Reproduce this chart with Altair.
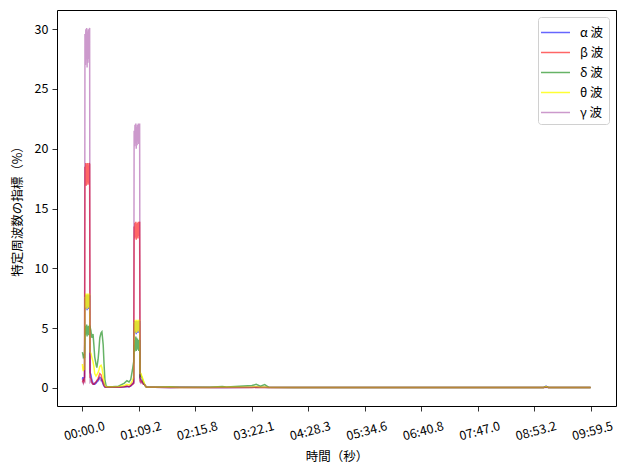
import altair as alt
import pandas as pd

# sample index (x) and the five series
X = ([0, 1, 2, 3, 5]
     + [6, 7, 8, 9, 10, 11, 12, 13, 14, 15, 16, 17]
     + [18, 20, 22, 25, 27, 29, 32, 34, 37, 39, 41, 44, 46, 49, 51, 53, 56, 59]
     + [70, 85, 99, 105, 110, 114, 118, 121]
     + [122, 123, 124, 125, 126, 127, 128, 129, 130, 131, 132, 133, 134, 135]
     + [136, 138, 140, 142, 144, 146, 148, 150, 152]
     + [170, 208, 230, 300, 320, 330, 340, 400, 410, 420, 430, 440, 500, 600,
        700, 800, 900, 1000, 1088, 1094, 1100, 1150, 1199])

ALPHA = ([0.7, 0.9, 0.6, 0.8, 0.9]
         + [7.5, 6.6, 7.8, 6.7, 7.7, 6.5, 7.8, 6.8, 7.7, 6.6, 7.8, 7.7]
         + [1.3, 1.1, 0.7, 0.4, 0.3, 0.3, 0.4, 0.5, 0.6, 0.8, 0.9, 0.8, 0.6, 0.3, 0.15, 0.08, 0.05, 0.05]
         + [0.05, 0.05, 0.1, 0.1, 0.1, 0.15, 0.3, 0.4]
         + [5.4, 4.6, 5.6, 4.7, 5.5, 4.5, 5.6, 4.8, 5.5, 4.6, 5.6, 4.7, 5.5, 5.6]
         + [0.8, 0.7, 0.6, 0.5, 0.4, 0.3, 0.2, 0.1, 0.05]
         + [0.05, 0.04, 0.03, 0.03, 0.04, 0.05, 0.04, 0.05, 0.06, 0.05, 0.05, 0.04, 0.03, 0.03,
            0.03, 0.03, 0.03, 0.03, 0.03, 0.15, 0.03, 0.03, 0.03])

BETA = ([0.5, 0.6, 0.5, 0.7, 0.6]
        + [18.5, 17.0, 18.8, 16.9, 18.7, 17.2, 18.8, 17.0, 18.6, 17.1, 18.8, 18.7]
        + [0.9, 0.8, 0.5, 0.3, 0.3, 0.4, 0.5, 0.6, 0.8, 1.0, 1.2, 1.1, 0.8, 0.4, 0.2, 0.08, 0.05, 0.05]
        + [0.05, 0.05, 0.1, 0.15, 0.1, 0.2, 0.3, 0.4]
        + [13.5, 12.5, 13.8, 12.6, 13.9, 12.4, 13.7, 12.6, 13.8, 12.5, 13.9, 12.7, 13.8, 13.9]
        + [0.6, 0.5, 0.6, 0.4, 0.3, 0.3, 0.2, 0.1, 0.05]
        + [0.05, 0.04, 0.03, 0.03, 0.03, 0.04, 0.03, 0.04, 0.05, 0.04, 0.04, 0.03, 0.03, 0.03,
           0.03, 0.03, 0.03, 0.03, 0.03, 0.08, 0.03, 0.03, 0.03])

DELTA = ([3.0, 2.8, 2.6, 2.7, 2.5]
         + [5.0, 4.4, 5.2, 4.5, 5.3, 4.3, 5.1, 4.6, 5.2, 4.4, 5.1, 5.2]
         + [5.1, 4.8, 4.2, 4.5, 3.6, 2.6, 2.0, 1.7, 2.4, 3.2, 4.2, 4.6, 4.7, 3.6, 2.0, 0.7, 0.15, 0.1]
         + [0.1, 0.15, 0.4, 0.6, 0.5, 0.7, 1.5, 2.2]
         + [3.6, 3.0, 4.0, 3.2, 4.3, 3.1, 4.2, 3.3, 4.1, 3.2, 4.0, 3.1, 3.9, 4.0]
         + [1.0, 1.1, 0.9, 0.7, 0.5, 0.3, 0.2, 0.1, 0.05]
         + [0.05, 0.1, 0.05, 0.05, 0.1, 0.12, 0.08, 0.2, 0.3, 0.15, 0.28, 0.05, 0.03, 0.03,
            0.03, 0.03, 0.03, 0.03, 0.03, 0.1, 0.03, 0.03, 0.03])

THETA = ([2.0, 1.6, 1.4, 1.8, 1.5]
         + [7.6, 6.7, 7.9, 6.8, 7.8, 6.6, 7.9, 6.9, 7.8, 6.7, 7.9, 7.8]
         + [3.0, 2.9, 2.6, 2.2, 1.8, 1.2, 1.0, 1.1, 1.3, 1.5, 1.8, 1.9, 1.7, 1.0, 0.5, 0.2, 0.1, 0.08]
         + [0.08, 0.1, 0.2, 0.3, 0.25, 0.35, 0.6, 0.9]
         + [5.5, 4.7, 5.7, 4.8, 5.6, 4.6, 5.7, 4.9, 5.6, 4.7, 5.7, 4.8, 5.6, 5.7]
         + [1.2, 1.2, 1.0, 0.8, 0.6, 0.4, 0.2, 0.1, 0.05]
         + [0.06, 0.05, 0.04, 0.04, 0.05, 0.06, 0.05, 0.08, 0.1, 0.06, 0.08, 0.04, 0.03, 0.03,
            0.03, 0.03, 0.03, 0.03, 0.03, 0.12, 0.03, 0.03, 0.03])

GAMMA = ([0.4, 0.5, 0.4, 0.6, 0.5]
         + [29.6, 27.0, 30.0, 27.5, 30.1, 26.8, 29.8, 27.2, 30.0, 27.5, 29.9, 30.1]
         + [0.5, 0.6, 0.4, 0.3, 0.3, 0.4, 0.5, 0.6, 0.7, 0.8, 0.7, 0.6, 0.7, 0.5, 0.3, 0.1, 0.05, 0.05]
         + [0.05, 0.05, 0.1, 0.15, 0.1, 0.2, 0.4, 0.5]
         + [21.5, 20.2, 22.0, 20.5, 22.1, 20.0, 21.8, 20.3, 22.0, 20.6, 22.1, 20.4, 21.9, 22.1]
         + [0.5, 0.4, 0.5, 0.4, 0.3, 0.3, 0.2, 0.1, 0.05]
         + [0.06, 0.04, 0.05, 0.03, 0.03, 0.04, 0.03, 0.04, 0.05, 0.04, 0.04, 0.03, 0.03, 0.03,
            0.03, 0.03, 0.03, 0.03, 0.03, 0.06, 0.03, 0.03, 0.03])

SERIES_NAMES = ["α 波", "β 波", "δ 波", "θ 波", "γ 波"]
SERIES_COLORS = ["rgba(0,0,255,0.6)", "rgba(255,0,0,0.6)", "rgba(0,128,0,0.6)",
                 "rgba(255,255,0,0.8)", "rgba(128,0,128,0.4)"]
TICK_LABELS = ["00:00.0", "01:09.2", "02:15.8", "03:22.1", "04:28.3",
               "05:34.6", "06:40.8", "07:47.0", "08:53.2", "09:59.5"]
N_LAST = 1199

rows = []
for k, (name, vals) in enumerate(zip(SERIES_NAMES, [ALPHA, BETA, DELTA, THETA, GAMMA])):
    assert len(vals) == len(X), (name, len(vals), len(X))
    for xi, v in zip(X, vals):
        rows.append({"idx": xi, "value": v, "series": name, "order": k})
df = pd.DataFrame(rows)

tick_vals = [i * N_LAST / 9 for i in range(10)]
label_expr = "[" + ",".join("'%s'" % t for t in TICK_LABELS) + "][round(datum.value*9/%d)]" % N_LAST

FONT = "Noto Sans CJK JP"
FS = 12.5

chart = alt.Chart(df).mark_line(strokeWidth=1.5).encode(
    x=alt.X("idx:Q",
            scale=alt.Scale(domain=[-60, 1259], nice=False, zero=False),
            axis=alt.Axis(title="時間（秒）", values=tick_vals, labelExpr=label_expr,
                          labelAngle=345, labelAlign="center", labelBaseline="top",
                          labelPadding=14, titlePadding=8,
                          grid=False, labelFlush=False, labelOverlap=False)),
    y=alt.Y("value:Q",
            scale=alt.Scale(domain=[-1.51, 31.6], nice=False, zero=False),
            axis=alt.Axis(title="特定周波数の指標（%）", values=[0, 5, 10, 15, 20, 25, 30],
                          grid=False, labelPadding=4, titlePadding=10)),
    color=alt.Color("series:N",
                    scale=alt.Scale(domain=SERIES_NAMES, range=SERIES_COLORS),
                    legend=alt.Legend(title=None, orient="top-right", offset=7,
                                      symbolType="M-1.5,0H1.5", symbolStrokeWidth=1.5,
                                      symbolSize=373, symbolOffset=2, labelOffset=14,
                                      strokeColor="#d0d0d0", fillColor="white",
                                      cornerRadius=3, padding=5, rowPadding=3,
                                      labelFont=FONT, labelFontSize=FS, labelColor="black")),
    order=alt.Order("order:Q"),
).properties(
    width=559, height=396,
    autosize=alt.AutoSizeParams(type="none"),
    padding={"left": 49, "top": 2, "right": 3, "bottom": 60},
).configure_view(
    stroke="black", strokeWidth=1
).configure_axis(
    domain=False, tickColor="black", tickSize=5, tickWidth=0.8,
    labelFont=FONT, labelFontSize=FS, labelColor="black",
    titleFont=FONT, titleFontSize=FS, titleFontWeight="normal", titleColor="black"
)

chart.save("out.html", embed_options={"renderer": "svg", "actions": False})
